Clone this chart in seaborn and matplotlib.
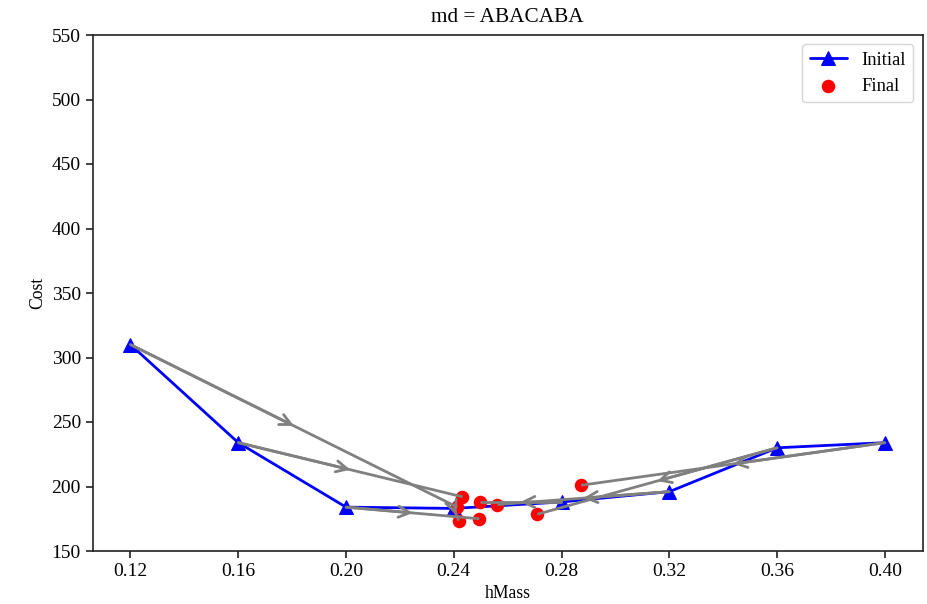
import matplotlib
matplotlib.use("Agg")
import matplotlib.pyplot as plt
import seaborn as sns
import numpy as np

h_initial = [0.12, 0.16, 0.20, 0.24, 0.28, 0.32, 0.36, 0.40]
cost_initial = [310, 234, 184, 183, 188, 196, 230, 234]
h_final = [0.2413, 0.2432, 0.2495, 0.2418, 0.2496, 0.2562, 0.2710, 0.2873]
cost_final = [184, 192, 175, 173.5, 188, 186, 178.5, 201]
x_ticks = [0.12, 0.16, 0.20, 0.24, 0.28, 0.32, 0.36, 0.40]
y_ticks = [150, 200, 250, 300, 350, 400, 450, 500, 550]

sns.set_style("ticks")
plt.rcParams['font.family'] = ['Liberation Serif', 'DejaVu Serif']
plt.rcParams['text.color'] = 'black'
plt.rcParams['axes.labelcolor'] = 'black'
plt.rcParams['xtick.color'] = '#222222'
plt.rcParams['ytick.color'] = '#222222'
plt.rcParams['xtick.labelcolor'] = 'black'
plt.rcParams['ytick.labelcolor'] = 'black'

fig = plt.figure(figsize=(9.28, 6.04), dpi=100)
ax = fig.add_axes([92.7/928, 1-551/604, (922.7-92.7)/928, (551-35)/604])

sns.lineplot(x=h_initial, y=cost_initial, ax=ax, color='blue', marker='^',
             markersize=9.5, markeredgecolor='blue', linewidth=2, sort=False,
             label='Initial', zorder=2)
sns.scatterplot(x=h_final, y=cost_final, ax=ax, color='red', s=95,
                linewidth=0, label='Final', zorder=3)

for x0, y0, x1, y1 in zip(h_initial, cost_initial, h_final, cost_final):
    xm, ym = (x0 + x1) / 2, (y0 + y1) / 2
    ax.plot([x0, x1], [y0, y1], color='gray', lw=2, zorder=4,
            solid_capstyle='butt')
    ax.annotate('', xy=(xm, ym), xytext=(x0, y0),
                arrowprops=dict(arrowstyle='->', color='gray', lw=2,
                                mutation_scale=20, shrinkA=0, shrinkB=0),
                zorder=4)

ax.set_ylim(150, 550)
ax.set_xticks(x_ticks)
ax.set_xticklabels([f"{v:.2f}" for v in x_ticks])
ax.set_yticks(y_ticks)
ax.tick_params(labelsize=14, length=5, width=1.2, direction='out')
ax.set_xlabel('hMass', fontsize=12.7, labelpad=4)
ax.set_ylabel('Cost', fontsize=12.7)
ax.set_title('md = ABACABA', fontsize=15.3, pad=9)
for s in ax.spines.values():
    s.set_visible(True)
    s.set_color('#222222')
    s.set_linewidth(1.2)
ax.legend(loc='upper right', fontsize=13.3)

fig.savefig('out.png', dpi=100)
